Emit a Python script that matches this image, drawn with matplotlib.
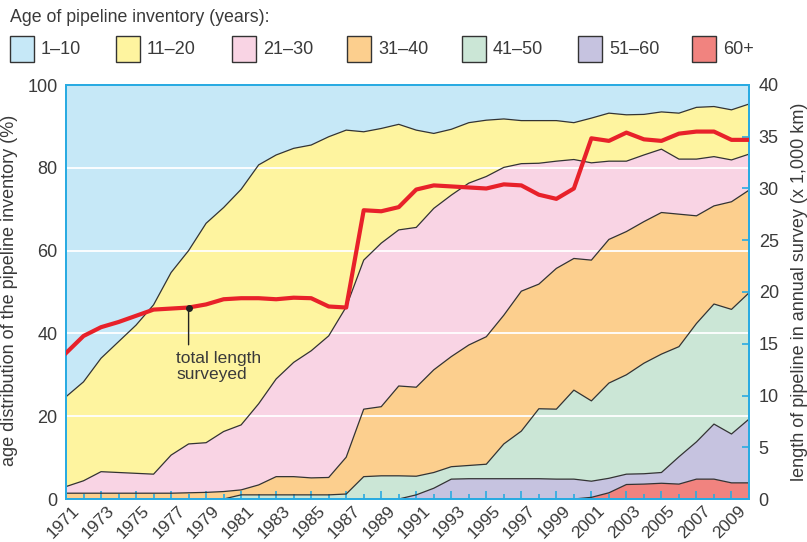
import numpy as np
import matplotlib
matplotlib.use("Agg")
import matplotlib.pyplot as plt
from matplotlib.patches import Rectangle
import matplotlib.transforms as mtransforms

plt.rcParams['font.family'] = ['Liberation Sans', 'DejaVu Sans']

# years of the annual survey
years = list(range(1971, 2011))

# share of pipeline inventory per age group (%)
share_60_plus = [0.0] * 30 + [0.4, 1.5, 3.5, 3.6, 3.8, 3.6, 4.8, 4.8, 3.9, 3.9]
share_51_60 = [0.0] * 20 + [1.0, 2.6, 4.8, 4.9, 4.9, 4.9, 4.9, 4.9, 4.8, 4.8,
                            3.9, 3.5, 2.5, 2.5, 2.6, 6.6, 9.0, 13.3, 11.8, 15.4]
share_41_50 = [0.0] * 10 + [1.0, 1.0, 1.0, 1.0, 1.0, 1.0, 1.2, 5.4, 5.6, 5.6,
                            4.5, 3.8, 3.0, 3.2, 3.5, 8.4, 11.5, 16.9, 16.9, 21.5,
                            19.4, 23.0, 24.0, 26.7, 28.6, 26.6, 28.6, 29.0, 30.1, 30.5]
share_31_40 = [1.4, 1.4, 1.4, 1.4, 1.4, 1.4, 1.4, 1.5, 1.6, 1.8,
               1.2, 2.4, 4.4, 4.4, 4.1, 4.2, 8.9, 16.3, 16.7, 21.7,
               21.5, 24.8, 26.6, 29.1, 30.8, 31.1, 33.8, 30.1, 34.0, 31.8,
               34.0, 34.7, 34.6, 34.2, 34.2, 32.0, 26.0, 23.7, 26.0, 24.8]
share_21_30 = [1.6, 3.0, 5.2, 5.0, 4.8, 4.6, 9.2, 11.8, 12.0, 14.5,
               15.7, 19.6, 23.6, 27.6, 30.7, 34.2, 36.3, 36.0, 39.5, 37.7,
               38.6, 39.0, 39.0, 39.1, 38.7, 35.7, 30.8, 29.2, 25.9, 23.9,
               23.5, 18.9, 17.0, 16.1, 15.3, 13.3, 13.7, 11.9, 10.1, 8.7]
share_11_20 = [21.7, 23.9, 27.4, 31.6, 35.8, 40.9, 44.1, 46.7, 53.0, 54.1,
               56.9, 57.7, 54.1, 51.7, 49.7, 48.1, 42.7, 31.0, 27.7, 25.5,
               23.5, 18.1, 15.9, 14.6, 13.6, 11.7, 10.4, 10.3, 9.8, 8.9,
               10.8, 11.6, 11.2, 9.8, 9.0, 11.1, 12.5, 12.1, 12.1, 12.1]
share_1_10 = [75.3, 71.7, 66.0, 62.0, 58.0, 53.1, 45.3, 40.0, 33.4, 29.6,
              25.2, 19.3, 16.9, 15.3, 14.5, 12.5, 10.9, 11.3, 10.5, 9.5,
              10.9, 11.7, 10.7, 9.1, 8.5, 8.2, 8.6, 8.6, 8.6, 9.1,
              8.0, 6.8, 7.2, 7.1, 6.5, 6.8, 5.4, 5.2, 6.0, 4.6]

# total length surveyed (x 1,000 km)
total_length = [14.1, 15.75, 16.6, 17.1, 17.7, 18.3, 18.4, 18.5, 18.8, 19.3,
                19.4, 19.4, 19.3, 19.45, 19.4, 18.6, 18.5, 27.9, 27.8, 28.2,
                29.9, 30.3, 30.2, 30.1, 30.0, 30.4, 30.3, 29.4, 29.0, 30.0,
                34.85, 34.6, 35.4, 34.75, 34.6, 35.3, 35.5, 35.5, 34.7, 34.7]

age_labels = ['1–10', '11–20', '21–30', '31–40', '41–50', '51–60', '60+']
age_colors = ['#c6e8f7', '#fef49f', '#f9d4e4', '#fccf8e', '#cbe6d6', '#c6c3e0', '#f1837f']

cyan = '#29abe2'
text_color = '#3a3a3a'
line_red = '#e8212a'

W, H = 807, 542
fig = plt.figure(figsize=(W / 100, H / 100), dpi=100)
ax = fig.add_axes([66 / W, 43 / H, 683 / W, 414 / H])
ax.set_facecolor(age_colors[0])

# stack from the oldest group at the bottom
layers = [share_60_plus, share_51_60, share_41_50, share_31_40, share_21_30, share_11_20, share_1_10]
ax.stackplot(years, *layers, colors=age_colors[::-1], linewidth=0, zorder=1)

for v in (20, 40, 60, 80):
    ax.axhline(v, color='white', lw=1.3, zorder=2)

tops = np.cumsum(np.array(layers), axis=0)
for row in tops[:-1]:
    ax.plot(years, row, color='#333333', lw=0.9, zorder=2.2)

ax.set_xlim(1971, 2010)
ax.set_ylim(0, 100)
ax.set_yticks(range(0, 101, 20))
ax.tick_params(axis='y', length=0, pad=6, labelsize=13, labelcolor=text_color)

ax.set_xticks(years[::2])
ax.set_xticks(years[1::2], minor=True)
ax.set_xticklabels([str(y) for y in years[::2]])
ax.tick_params(axis='x', which='major', direction='in', length=6, width=1.2,
               color=cyan, pad=3, labelsize=12.5, labelcolor=text_color)
ax.tick_params(axis='x', which='minor', direction='in', length=3.5, width=1.2, color=cyan)
offset = mtransforms.ScaledTranslation(6 / 100, 0, fig.dpi_scale_trans)
for lbl in ax.get_xticklabels():
    lbl.set_rotation(45)
    lbl.set_ha('right')
    lbl.set_va('top')
    lbl.set_rotation_mode('anchor')
    lbl.set_transform(lbl.get_transform() + offset)

ax.set_ylabel('age distribution of the pipeline inventory (%)', fontsize=13, color=text_color)
ax.yaxis.set_label_coords(-0.07, 0.505)

ax2 = ax.twinx()
ax2.plot(years, total_length, color=line_red, lw=3, zorder=3)
ax2.set_ylim(0, 40)
ax2.set_yticks(range(0, 41, 5))
ax2.tick_params(axis='y', direction='in', length=5, width=1.2, color=cyan,
                pad=7, labelsize=13, labelcolor=text_color)
ax2.set_ylabel('length of pipeline in annual survey (x 1,000 km)', fontsize=13, color=text_color)
ax2.yaxis.set_label_coords(1.062, 0.5)

for a in (ax, ax2):
    for s in a.spines.values():
        s.set_color(cyan)
        s.set_linewidth(1.3)

# callout for the red line
ax2.annotate('', xy=(1978, total_length[7]), xytext=(1978, 14.9),
             arrowprops=dict(arrowstyle='-', color='#222222', lw=1, shrinkA=0, shrinkB=0))
ax2.plot([1978], [total_length[7]], 'o', color='#222222', ms=4, zorder=4)
ax2.text(1977.3, 14.3, 'total length\nsurveyed', fontsize=12.5, color=text_color,
         va='top', ha='left', linespacing=1.1)

# legend
fig.text(10 / W, 1 - 18 / H, 'Age of pipeline inventory (years):', fontsize=12.8,
         color=text_color, va='center', ha='left')
patch_x = [10, 116, 232, 347, 462, 578, 692]
for px, lab, col in zip(patch_x, age_labels, age_colors):
    fig.add_artist(Rectangle((px / W, 1 - 62 / H), 24 / W, 26 / H, facecolor=col,
                             edgecolor='#333333', lw=1, transform=fig.transFigure))
    fig.text((px + 31) / W, 1 - 49 / H, lab, fontsize=13, color=text_color,
             va='center', ha='left')

fig.savefig('out.png', dpi=100)
